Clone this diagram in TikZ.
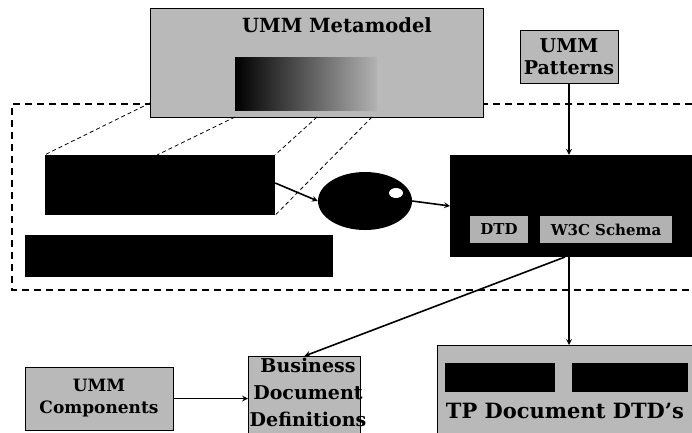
\documentclass[tikz,border=0pt]{standalone}
\usepackage{fontspec}
\setmainfont{DejaVu Serif}
\usetikzlibrary{shapes.geometric}

\begin{document}
\begin{tikzpicture}[x=1pt, y=-1pt, >=stealth,
    graybox/.style={draw=black, fill=gray!55, line width=1pt, inner sep=0pt, align=center},
    blackbox/.style={fill=black, inner sep=0pt},
    conn/.style={->, line width=1.6pt},
    proj/.style={dashed, line width=0.8pt, dash pattern=on 4pt off 3pt}]
    \useasboundingbox (0,0) rectangle (692,432);

    % gestrichelter Rahmen
    \draw[line width=1.3pt, dash pattern=on 7pt off 5pt] (692,104) -- (12,104) -- (12,290) -- (692,290);

    % metamodel oben
    \node[graybox, minimum width=333, minimum height=109] (meta) at (316.5,62.5) {};
    \node[font=\fontsize{19.5}{21}\selectfont\bfseries] (metatitle) at (337,25) {UMM Metamodel};
    \node[inner sep=0pt, minimum width=142, minimum height=53, left color=black, right color=gray!60] (inner) at (306,84) {};
    \node[graybox, minimum width=98, minimum height=53, font=\fontsize{19}{22}\selectfont\bfseries] (patterns) at (569,56.5) {UMM\\Patterns};

    \node[blackbox, minimum width=230, minimum height=60] (leftbox) at (160,185) {};
    \node[blackbox, minimum width=308, minimum height=42] (lowbox) at (179,256) {};
    \node[ellipse, fill=black, inner sep=0pt, minimum width=94, minimum height=58] (proc) at (365,201) {};
    \fill[white] (396,193) ellipse (7 and 5);
    \node[blackbox, minimum width=250, minimum height=102, anchor=west] (rightbox) at (450,206) {};
    \node[graybox, draw=none, fill=gray!60, minimum width=58, minimum height=27, font=\fontsize{15}{15}\selectfont\bfseries] (dtd) at (499,229.5) {DTD};
    \node[graybox, draw=none, fill=gray!60, minimum width=132, minimum height=27, font=\fontsize{15}{15}\selectfont\bfseries] (w3c) at (606,229.5) {W3C Schema};

    % Projektion
    \coordinate (m1) at (150,103);
    \coordinate (m2) at (235,117);
    \coordinate (m3) at (317,117);
    \coordinate (m4) at (372,117);
    \coordinate (l2) at (157,155);
    \draw[proj] (m1) -- (leftbox.north west);
    \draw[proj] (m2) -- (l2);
    \draw[proj] (m3) -- (leftbox.north east);
    \draw[proj] (m4) -- (leftbox.south east);

    % unten
    \node[graybox, minimum width=262, minimum height=95, anchor=north west] (tp) at (437,345) {};
    \node[blackbox, minimum width=110, minimum height=29] (tp1) at (500,377.5) {};
    \node[blackbox, minimum width=116, minimum height=29] (tp2) at (630,377.5) {};
    \node[font=\fontsize{21}{21}\selectfont\bfseries] (tptext) at (565,411) {TP Document DTD's};
    \node[graybox, minimum width=112, minimum height=85, anchor=north west] (bdd) at (248,356) {};
    \node[font=\fontsize{19}{27}\selectfont\bfseries, align=center] (bddtext) at (308,392) {Business\\Document\\Definitions};
    \node[graybox, minimum width=148, minimum height=63, font=\fontsize{17}{22}\selectfont\bfseries] (comp) at (99,398.5) {UMM\\Components};

    % Pfeile
    \draw[conn] (leftbox.east |- 0,183) -- (proc.west);
    \draw[conn] (proc.east) -- (rightbox.west);
    \draw[conn] (patterns.south) -- (patterns.south |- rightbox.north);
    \draw[conn] (patterns.south |- rightbox.south) -- (patterns.south |- tp.north);
    \draw[conn] (565,257) -- (bdd.north);
    \draw[conn] (comp.east) -- (bdd.west |- comp.east);
\end{tikzpicture}
\end{document}
